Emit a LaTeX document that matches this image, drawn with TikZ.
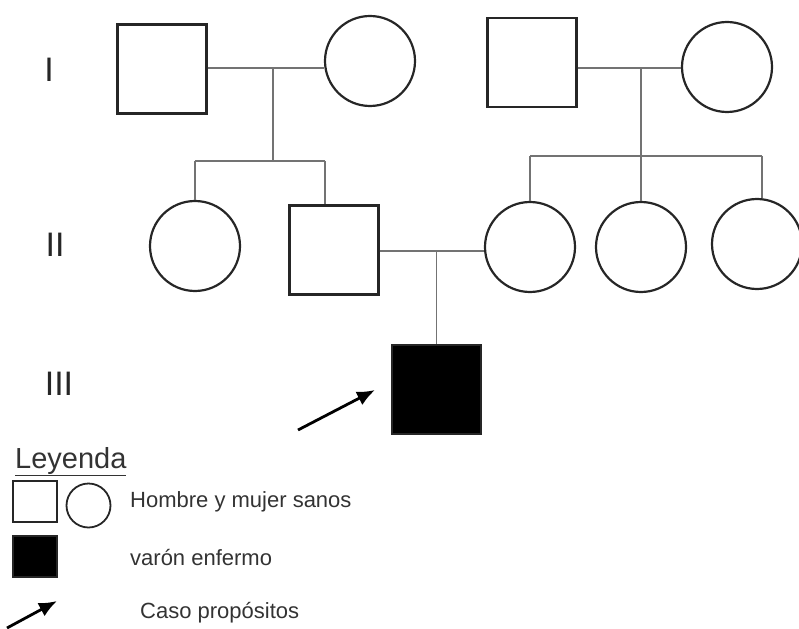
\documentclass[tikz,border=0pt]{standalone}
\usepackage{fontspec}
\setmainfont{Liberation Sans}
\usetikzlibrary{arrows.meta}
\begin{document}
\begin{tikzpicture}[x=1pt,y=-1pt,
  male/.style={draw=black!85,line width=2.2pt,rectangle,minimum size=89pt,inner sep=0pt},
  female/.style={draw=black!85,line width=2.2pt,circle,minimum size=90pt,inner sep=0pt},
  affected/.style={male,fill=black},
  lmale/.style={draw=black!85,line width=1.8pt,rectangle,minimum width=44pt,minimum height=41pt,inner sep=0pt},
  lfemale/.style={draw=black!85,line width=1.8pt,circle,minimum size=44pt,inner sep=0pt},
  laffected/.style={lmale,fill=black},
  conn/.style={draw=black!55,line width=1.4pt},
  gen/.style={font=\fontsize{34}{34}\selectfont,text=black!85,inner sep=0pt},
  ltext/.style={font=\fontsize{22}{22}\selectfont,text=black!80,anchor=west,inner sep=0pt},
  proband/.style={line width=2.8pt,-{Latex[length=18pt,width=15pt]}}]
\useasboundingbox (0,0) rectangle (799,628);
% generation labels
\node[gen] (g1) at (49,70) {I};
\node[gen] (g2) at (55,245) {II};
\node[gen] (g3) at (59,384) {III};
% generation I
\node[male] (a1) at (162,69) {};
\node[female] (a2) at (370,61) {};
\node[male] (a3) at (532,62.5) {};
\node[female] (a4) at (727,67) {};
% generation II
\node[female] (b1) at (195,246) {};
\node[male] (b2) at (334,250) {};
\node[female] (b3) at (530,247) {};
\node[female] (b4) at (641,247) {};
\node[female] (b5) at (757,244) {};
% generation III
\node[affected] (c1) at (436.5,389.5) {};
% connectors family 1
\coordinate (m1) at (273,68);
\coordinate (s1) at (273,161);
\coordinate (s1l) at (195,161);
\coordinate (s1r) at (325,161);
\draw[conn] (a1.east |- m1) -- (m1) -- (a2.west |- m1);
\draw[conn] (m1) -- (s1);
\draw[conn] (s1l) -- (s1r);
\draw[conn] (s1l) -- (b1.north);
\draw[conn] (s1r) -- (s1r |- b2.north);
% connectors family 2
\coordinate (m2) at (641,68);
\coordinate (s2) at (641,156);
\coordinate (s2l) at (530,156);
\coordinate (s2r) at (762,156);
\draw[conn] (a3.east |- m2) -- (m2) -- (a4.west |- m2);
\draw[conn] (m2) -- (s2);
\draw[conn] (s2l) -- (s2r);
\draw[conn] (s2l) -- (b3.north);
\draw[conn] (s2) -- (b4.north);
\draw[conn] (s2r) -- (s2r |- b5.north);
% marriage II
\coordinate (m3) at (436.5,251);
\draw[conn] (b2.east |- m3) -- (m3) -- (b3.west |- m3);
\draw[conn] (m3) -- (c1.north);
% proband arrow
\coordinate (pa) at (298,430);
\coordinate (pb) at (375,390);
\draw[proband] (pa) -- (pb);
% legend
\node[font=\fontsize{29}{29}\selectfont,text=black!80,anchor=base west,inner sep=0pt] (ley) at (15,468) {\underline{Leyenda}};
\node[lmale] (l1) at (35,501.5) {};
\node[lfemale] (l2) at (88.5,505.5) {};
\node[ltext] (t1) at (130,502) {Hombre y mujer sanos};
\node[laffected] (l3) at (35,556.5) {};
\node[ltext] (t2) at (130,558) {varón enfermo};
\coordinate (la) at (7,628);
\coordinate (lb) at (57,601);
\draw[proband] (la) -- (lb);
\node[ltext] (t3) at (140,613) {Caso propósitos};
\end{tikzpicture}
\end{document}
